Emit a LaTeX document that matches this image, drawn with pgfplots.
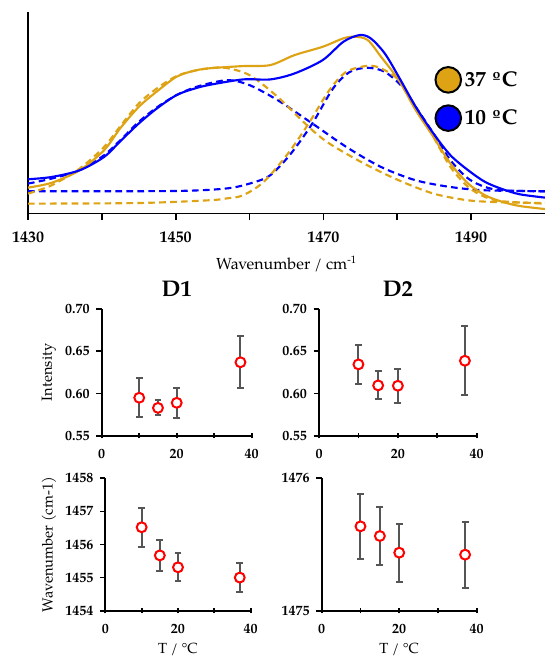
\documentclass[border=0pt]{standalone}
\usepackage{pgfplots}
\pgfplotsset{compat=1.18}
\usepackage{fontspec}
\setmainfont{TeX Gyre Pagella}

\definecolor{gold}{RGB}{221,163,20}
\definecolor{pblue}{RGB}{0,0,255}
\definecolor{errgray}{RGB}{85,85,85}
\definecolor{mred}{RGB}{255,0,0}

\pgfplotsset{
  panel/.style={
    scale only axis, axis lines=left,
    axis line style={-, line width=1.3pt},
    xmin=0, xmax=40, xtick={0,10,20,30,40},
    xticklabels={\textbf{0},,\textbf{20},,\textbf{40}},
    tick style={black, line width=1.3pt},
    xtick align=center, ytick align=outside, major tick length=4pt,
    /pgf/number format/assume math mode=true,
    tick label style={font=\bfseries\fontsize{10.5}{12}\selectfont},
    xticklabel style={yshift=-4.5pt},
    yticklabel style={xshift=-1.5pt},
    label style={font=\fontsize{11}{13}\selectfont},
    xlabel style={yshift=-0.5pt},
    title style={font=\bfseries\fontsize{17}{19}\selectfont},
  },
  pts/.style={only marks, mark=*, mark size=3.7pt,
    mark options={draw=mred, fill=white, line width=1.5pt},
    error bars/.cd, y dir=both, y explicit,
    error bar style={line width=1.5pt, errgray},
    error mark options={rotate=90, mark size=2.6pt, line width=1.5pt, errgray}},
  comp/.style={line width=1.6pt, dash pattern=on 5pt off 3.2pt, smooth},
  full/.style={line width=1.6pt, smooth},
}

\begin{document}
\begin{tikzpicture}
\path[use as bounding box] (0,0) rectangle (408.75pt,-493.5pt);

% ---------------- spectrum with band components ----------------
\begin{axis}[
  at={(21pt,-160pt)}, anchor=south west,
  scale only axis, width=387.75pt, height=151pt,
  xmin=1430, xmax=1500, ymin=0, ymax=201,
  axis lines=left, axis line style={-, line width=1.2pt},
  ytick=\empty,
  xtick={1430,1440,...,1490}, xticklabels={1430,,1450,,1470,,1490},
  xtick align=outside, major tick length=5pt,
  tick style={black, line width=1.2pt},
  /pgf/number format/assume math mode=true,
  tick label style={font=\bfseries\fontsize{12}{14}\selectfont},
  xticklabel style={yshift=-5pt},
  xlabel={Wavenumber / cm\textsuperscript{-1}},
  xlabel style={font=\fontsize{12}{14}\selectfont, yshift=-3.5pt},
  legend style={draw=none, fill=none, at={(0.778,0.568)}, anchor=west,
    font=\bfseries\fontsize{16}{18}\selectfont, row sep=8pt},
  legend cell align=left,
]
% blue (10 C) components
\addplot[comp, pblue, forget plot] coordinates {
(1430,29.7) (1433.2,34.7) (1437,43) (1440.3,58) (1442.5,73) (1445,91.3)
(1447.5,106) (1450.1,118) (1452.3,125) (1454.4,129.5) (1457.2,133)
(1460,128) (1463.8,113) (1468.5,89.7) (1473.1,66.3) (1477.8,46.3)
(1482.5,33) (1487.2,26.3) (1491.9,23) (1500,22)};
\addplot[comp, pblue, forget plot] coordinates {
(1430,22) (1449.7,22.3) (1456.7,24.7) (1460,29.7) (1462.8,38) (1465.6,59.7)
(1468.5,89.7) (1471.3,124.7) (1473.6,141.3) (1476,145.3) (1478.3,141.3)
(1480.7,126.3) (1482.5,106.3) (1484.9,79.7) (1487.2,53) (1489.6,34.7)
(1491.9,26.3) (1494.3,23) (1500,22)};
% gold (37 C) components
\addplot[comp, gold, forget plot] coordinates {
(1430,19.7) (1433.2,28) (1437,44.7) (1440.3,66.3) (1442.5,87) (1445,109.7)
(1447.5,125) (1450.1,137) (1452.3,142) (1454.4,144.7) (1456.7,145.3)
(1460,138) (1463.8,116.3) (1468,86.3) (1470.8,69.7) (1475.5,49.7)
(1480.2,33) (1484.9,19.7) (1489.6,13) (1494.3,11) (1500,10.3)};
\addplot[comp, gold, forget plot] coordinates {
(1430,9.7) (1445,10.3) (1454.4,13) (1457,15) (1459.1,18) (1461.9,31.3)
(1465.2,59.7) (1468,89.7) (1470.8,123) (1473.1,141.3) (1476,147.3)
(1477.8,144.7) (1480.2,133) (1482.5,106.3) (1484.9,76.3) (1487.2,46.3)
(1489.6,26.3) (1491.9,16.3) (1494.3,12) (1500,9.7)};
% measured spectra
\addplot[full, gold,
  legend image code/.code={\draw[line width=1.5pt, draw=black, fill=gold] (9.6pt,0pt) circle (9.6pt);}]
 coordinates {
(1430,25.7) (1433.2,30.5) (1437,43) (1440.3,63) (1442.5,85) (1445,106.3)
(1447.5,122) (1450.1,136.3) (1452.3,142) (1454.4,144.7) (1459.1,147)
(1462.8,148) (1466.1,158) (1469.9,166.3) (1472.7,174.7) (1474.3,176.3)
(1476,173) (1477.8,156.3) (1480.2,133) (1482.5,103) (1484.9,76.3)
(1487.2,49.7) (1489.6,29.7) (1491.9,18) (1494.3,11.3) (1496.6,7.3) (1500,4.3)};
\addlegendentry{37 ºC}
\addplot[full, pblue,
  legend image code/.code={\draw[line width=1.5pt, draw=black, fill=pblue] (9.6pt,0pt) circle (9.6pt);}]
 coordinates {
(1430,34) (1433.2,36.3) (1437,43) (1440.3,56.3) (1442.5,72) (1445,89.7)
(1447.5,105) (1450.1,118) (1452.3,124) (1454.4,128) (1459.1,133.7)
(1462.8,133.7) (1466.1,139.7) (1469.9,153) (1472.7,171.3) (1474.9,178)
(1476.4,174.7) (1478.3,159.7) (1480.2,136.3) (1482.5,106.3) (1484.9,79.7)
(1487.2,58) (1489.6,43) (1491.9,31.3) (1494.3,24) (1496.6,19) (1500,15.7)};
\addlegendentry{10 ºC}
\end{axis}

% ---------------- D1 intensity ----------------
\begin{axis}[panel,
  at={(76.3pt,-326.8pt)}, anchor=south west, width=112.5pt, height=95pt,
  ymin=0.55, ymax=0.70, ytick={0.55,0.60,0.65,0.70},
  yticklabels={\textbf{0.55},\textbf{0.60},\textbf{0.65},\textbf{0.70}},
  ylabel={Intensity}, title={D1}]
\addplot[pts] coordinates {
(10,0.595) +- (0,0.023)
(15,0.583) +- (0,0.009)
(20,0.589) +- (0,0.018)
(37,0.637) +- (0,0.031)};
\end{axis}

% ---------------- D2 intensity ----------------
\begin{axis}[panel,
  at={(239.25pt,-326.8pt)}, anchor=south west, width=118.3pt, height=95pt,
  ymin=0.55, ymax=0.70, ytick={0.55,0.60,0.65,0.70},
  yticklabels={\textbf{0.55},\textbf{0.60},\textbf{0.65},\textbf{0.70}},
  title={D2}]
\addplot[pts] coordinates {
(10,0.6345) +- (0,0.023)
(15,0.6096) +- (0,0.0165)
(20,0.6092) +- (0,0.020)
(37,0.6388) +- (0,0.041)};
\end{axis}

% ---------------- D1 band position ----------------
\begin{axis}[panel,
  at={(79pt,-458pt)}, anchor=south west, width=109pt, height=99.3pt,
  ymin=1454, ymax=1458, ytick={1454,1455,1456,1457,1458},
  yticklabels={\textbf{1454},\textbf{1455},\textbf{1456},\textbf{1457},\textbf{1458}},
  ylabel={Wavenumber (cm-1)}, xlabel={T / °C}]
\addplot[pts] coordinates {
(10,1456.52) +- (0,0.59)
(15,1455.67) +- (0,0.48)
(20,1455.31) +- (0,0.42)
(37,1455.00) +- (0,0.45)};
\end{axis}

% ---------------- D2 band position ----------------
\begin{axis}[panel,
  at={(241.3pt,-458pt)}, anchor=south west, width=116.25pt, height=99.3pt,
  ymin=1475, ymax=1476, ytick={1475,1476},
  yticklabels={\textbf{1475},\textbf{1476}},
  xlabel={T / °C}]
\addplot[pts] coordinates {
(10,1475.637) +- (0,0.245)
(15,1475.564) +- (0,0.22)
(20,1475.438) +- (0,0.218)
(37,1475.423) +- (0,0.25)};
\end{axis}
\end{tikzpicture}
\end{document}
